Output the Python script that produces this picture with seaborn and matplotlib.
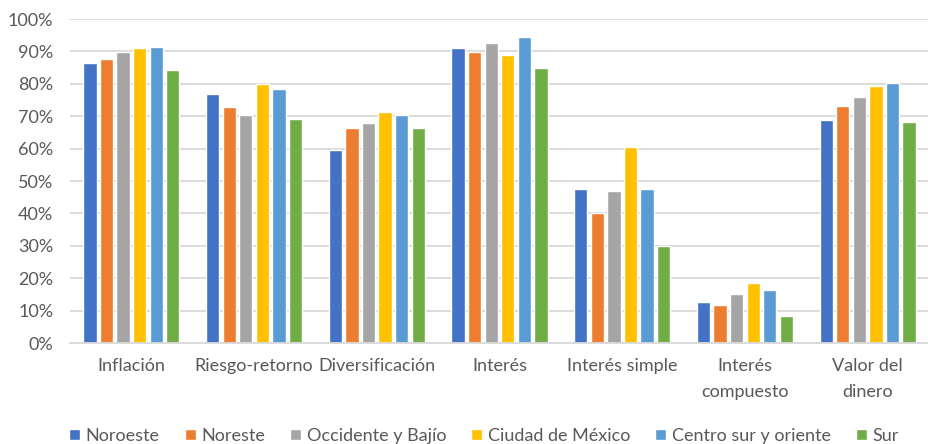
import pandas as pd
import numpy as np
import matplotlib
matplotlib.use('Agg')
import matplotlib.pyplot as plt
import seaborn as sns
from matplotlib.ticker import PercentFormatter
from matplotlib.patches import Patch

# datos
categorias = ['Inflación', 'Riesgo-retorno', 'Diversificación', 'Interés',
              'Interés simple', 'Interés\ncompuesto', 'Valor del\ndinero']
regiones = ['Noroeste', 'Noreste', 'Occidente y Bajío', 'Ciudad de México',
            'Centro sur y oriente', 'Sur']

noroeste = [0.864, 0.768, 0.596, 0.911, 0.475, 0.127, 0.688]
noreste = [0.876, 0.727, 0.665, 0.899, 0.401, 0.118, 0.730]
occidente = [0.897, 0.703, 0.678, 0.925, 0.469, 0.151, 0.759]
cdmx = [0.911, 0.798, 0.712, 0.889, 0.606, 0.186, 0.792]
centro = [0.914, 0.784, 0.703, 0.944, 0.475, 0.163, 0.801]
sur = [0.843, 0.691, 0.665, 0.849, 0.300, 0.083, 0.683]

colores = ['#4472C4', '#ED7D31', '#A5A5A5', '#FFC000', '#5B9BD5', '#70AD47']

series = [noroeste, noreste, occidente, cdmx, centro, sur]
filas = []
for reg, vals in zip(regiones, series):
    for cat, v in zip(categorias, vals):
        filas.append({'categoria': cat, 'region': reg, 'valor': v})
df = pd.DataFrame(filas)

sns.set_style('white')
plt.rcParams['font.family'] = ['Lato', 'DejaVu Sans']

fig = plt.figure(figsize=(9.29, 4.44), dpi=100)
ax = fig.add_axes([70 / 929, 1 - 343 / 444, 1 - 70 / 929, (343 - 19) / 444])

sns.barplot(data=df, x='categoria', y='valor', hue='region', palette=colores,
            order=categorias, hue_order=regiones, width=0.81, gap=0.2,
            ax=ax, legend=False, saturation=1)

ax.set_ylim(0, 1)
ax.set_xlim(-0.5, len(categorias) - 0.5)
ax.set_yticks(np.arange(0, 1.01, 0.1))
ax.yaxis.set_major_formatter(PercentFormatter(1.0, decimals=0))
ax.grid(axis='y', color='#D9D9D9', linewidth=1.3)
ax.set_axisbelow(True)
for s in ['top', 'right', 'left']:
    ax.spines[s].set_visible(False)
ax.spines['bottom'].set_color('#D9D9D9')
ax.spines['bottom'].set_linewidth(1.3)
ax.tick_params(axis='both', length=0, labelsize=13, colors='#595959')
ax.tick_params(axis='x', pad=11)
ax.tick_params(axis='y', pad=12)
for lbl in ax.get_xticklabels():
    lbl.set_linespacing(1.75)
ax.set_xlabel('')
ax.set_ylabel('')

handles = [Patch(facecolor=c, label=r) for c, r in zip(colores, regiones)]
fig.legend(handles=handles, loc='center', bbox_to_anchor=(484 / 929, 1 - 436 / 444),
           ncol=6, frameon=False, fontsize=13, labelcolor='#595959',
           handlelength=0.6, handleheight=0.6, handletextpad=0.3,
           columnspacing=1.4)

plt.savefig('out.png', dpi=100)
plt.close()
